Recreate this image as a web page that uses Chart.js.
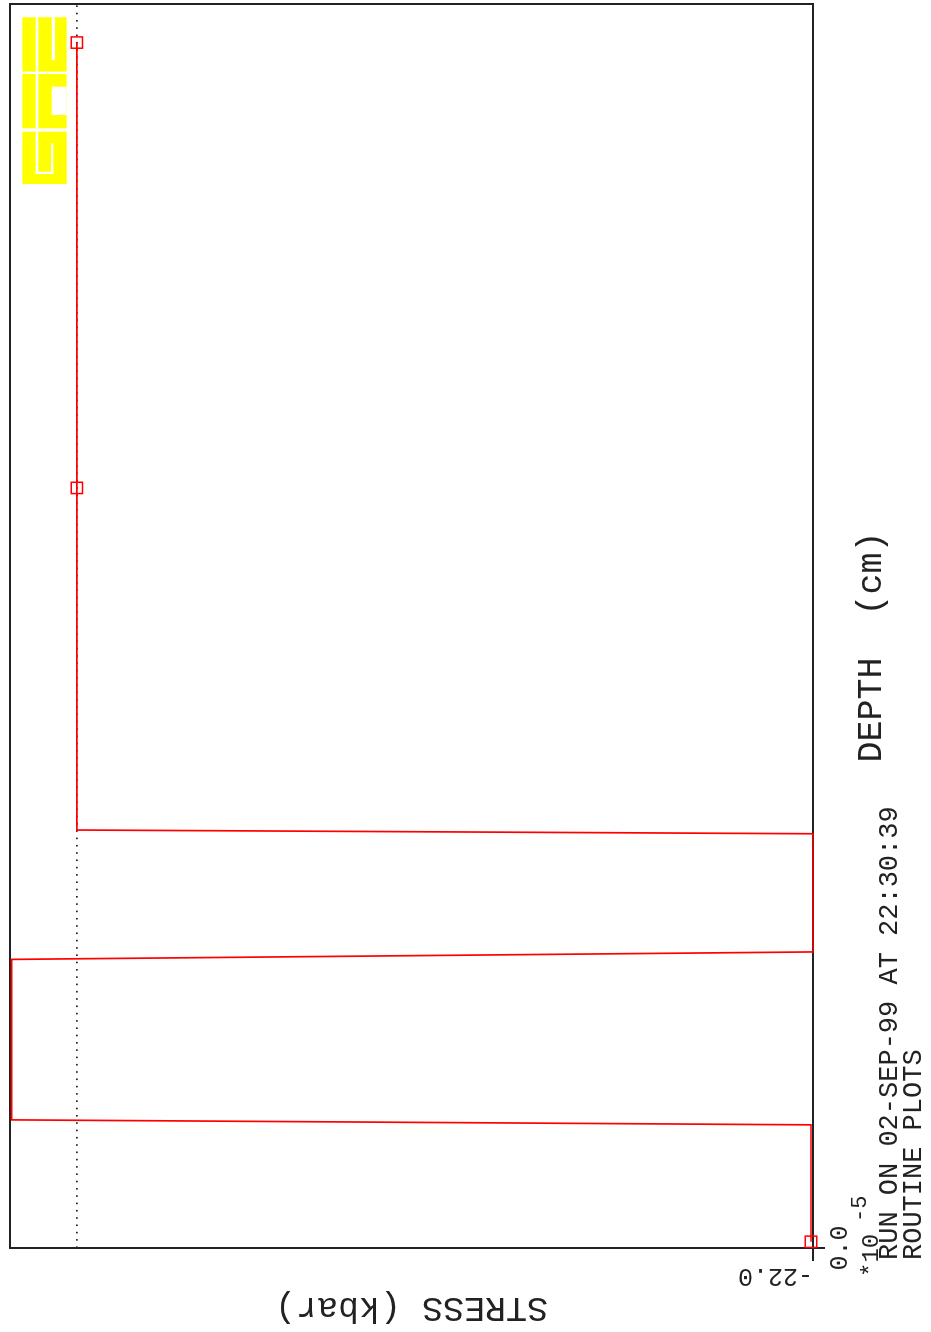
<!DOCTYPE html>
<html>
<head>
<meta charset="utf-8">
<script src="https://cdn.jsdelivr.net/npm/chart.js@4.4.1/dist/chart.umd.min.js"></script>
<style>
  html, body { margin: 0; padding: 0; background: #fff; overflow: hidden; }
  /* the plot is drawn upright and then turned a quarter turn, like the plotter page */
  #wrap { position: absolute; left: 0; top: 0; width: 1332px; height: 931px;
          transform-origin: 0 0; transform: translateY(1332px) rotate(-90deg); }
</style>
</head>
<body>
<div id="wrap"><canvas id="stress-chart" width="1332" height="931"></canvas></div>
<script>
// depth in units of 1e-5 cm, stress in kbar
const depth  = [0.005, 0.099, 0.103, 0.232, 0.238, 0.333, 0.336, 0.611, 0.969];
const stress = [-21.94, -21.94, 1.95, 1.95, -22.0, -22.0, 0.0, 0.0, 0.0];
const markedPoints = [0, 7, 8];

const zeroLineDepth  = [0, 1];
const zeroLineStress = [0, 0];

const depthTicks  = [0];
const stressTicks = [-22];

const mono = '"Liberation Mono", "DejaVu Sans Mono", monospace';
const ink = '#222';

const pagePlugin = {
  id: 'page',
  beforeDatasetsDraw(chart) {
    const {ctx, chartArea: a} = chart;
    ctx.save();
    ctx.strokeStyle = ink;
    ctx.lineWidth = 2;
    ctx.strokeRect(a.left, a.top, a.right - a.left, a.bottom - a.top);
    ctx.restore();
  },
  afterDraw(chart) {
    const {ctx, chartArea: a, width} = chart;
    ctx.save();
    ctx.fillStyle = ink;
    ctx.textBaseline = 'alphabetic';
    ctx.textAlign = 'left';
    ctx.font = '24px ' + mono;
    ctx.fillText('*10', 55, 878);
    ctx.font = '22px ' + mono;
    ctx.fillText('-5', 110, 866);
    ctx.font = '27px ' + mono;
    ctx.fillText('RUN ON 02-SEP-99 AT 22:30:39', 72, 897);
    ctx.fillText('ROUTINE PLOTS', 72, 921);
    ctx.restore();

    // GRE logo, laid out in the turned page's frame
    ctx.save();
    ctx.transform(0, 1, -1, 0, width, 0);
    const lx = a.top + 12.3, ly = (width - a.right) + 13.3;
    ctx.fillStyle = '#ffff00';
    ctx.fillRect(lx, ly, 44.4, 54.4);
    ctx.fillRect(lx, ly + 56.7, 44.4, 54.3);
    ctx.fillRect(lx, ly + 114.4, 44.4, 52.3);
    ctx.fillStyle = '#fff';
    ctx.fillRect(lx + 13.4, ly, 2.6, 111);
    ctx.fillRect(lx + 13.4, ly + 114.4, 2.6, 42.3);
    ctx.fillRect(lx + 29.4, ly, 3.3, 42.7);
    ctx.fillRect(lx + 29.4, ly + 69.4, 15, 28.3);
    ctx.fillRect(lx + 13.4, ly + 154.4, 17.6, 2.3);
    ctx.fillRect(lx + 28.7, ly + 126, 2.3, 30.7);
    ctx.restore();
  }
};

const ctx = document.getElementById('stress-chart');

const chart = new Chart(ctx, {
  type: 'scatter',
  data: {
    datasets: [{
      label: 'Stress',
      data: depth.map((d, i) => ({x: d, y: stress[i]})),
      showLine: true,
      clip: false,
      borderColor: '#ff0000',
      borderWidth: 1.7,
      tension: 0,
      pointStyle: 'rect',
      pointRadius: c => markedPoints.includes(c.dataIndex) ? 8 : 0,
      pointBorderColor: '#ff0000',
      pointBackgroundColor: 'rgba(0,0,0,0)',
      pointBorderWidth: 1.5
    }, {
      label: 'Zero',
      data: zeroLineDepth.map((d, i) => ({x: d, y: zeroLineStress[i]})),
      showLine: true,
      borderColor: ink,
      borderWidth: 1.6,
      borderDash: [1.6, 5.7],
      pointRadius: 0
    }]
  },
  options: {
    responsive: false,
    animation: false,
    layout: { autoPadding: false, padding: { left: 56, right: 4, top: 10, bottom: 0 } },
    plugins: {
      legend: { display: false },
      tooltip: { enabled: false }
    },
    scales: {
      x: {
        type: 'linear',
        min: 0,
        max: 1,
        border: { display: false },
        grid: { drawOnChartArea: false, drawTicks: true, tickLength: 12, color: ink, lineWidth: 2 },
        ticks: { color: ink, padding: 0, font: { family: mono, size: 25 }, callback: v => v.toFixed(1) },
        title: { display: true, text: 'DEPTH  (cm)  ', color: ink, font: { family: mono, size: 35 }, padding: { top: 0, bottom: 38 } },
        afterBuildTicks: s => { s.ticks = depthTicks.map(v => ({value: v})); },
        afterFit: s => { s.height = 118; s.paddingLeft = 0; s.paddingRight = 0; }
      },
      y: {
        type: 'linear',
        min: -22,
        max: 2,
        border: { display: false },
        grid: { drawOnChartArea: false, drawTicks: true, tickLength: 13, color: ink, lineWidth: 2 },
        ticks: { color: ink, mirror: true, padding: -28, minRotation: 90, maxRotation: 90,
                 font: { family: mono, size: 25 }, callback: v => v.toFixed(1) },
        title: { display: true, text: 'STRESS (kbar)', color: ink, font: { family: mono, size: 35 }, padding: { top: -52, bottom: 0 } },
        afterBuildTicks: s => { s.ticks = stressTicks.map(v => ({value: v})); },
        afterFit: s => { s.width = 28; s.paddingTop = 0; s.paddingBottom = 0; }
      }
    }
  },
  plugins: [pagePlugin]
});
</script>
</body>
</html>
